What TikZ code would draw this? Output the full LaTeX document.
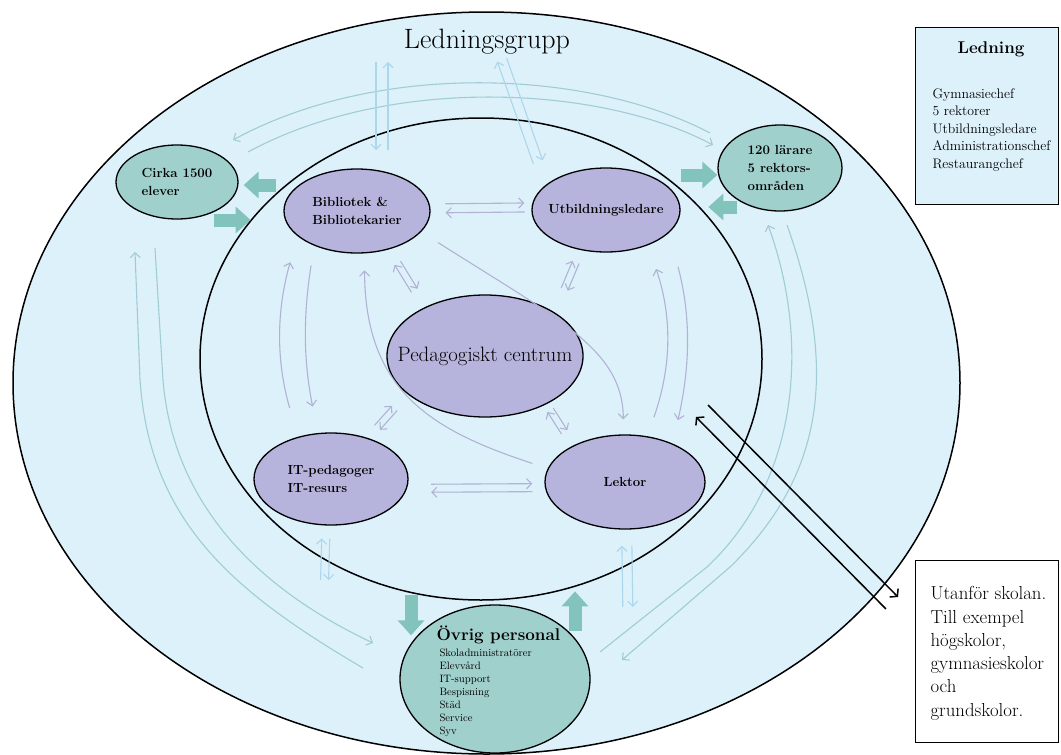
\documentclass[tikz,border=0pt]{standalone}
\usepackage{fontspec}
\usetikzlibrary{shapes.geometric,arrows.meta,calc}

\definecolor{skole}{RGB}{221,241,251}
\definecolor{lilac}{RGB}{182,180,220}
\definecolor{sjo}{RGB}{160,208,204}
\definecolor{fatgreen}{RGB}{130,196,188}
\definecolor{pilgra}{RGB}{178,178,212}
\definecolor{pilbla}{RGB}{160,204,214}
\definecolor{himmel}{RGB}{172,214,236}

\tikzset{
  rum/.style={ellipse, draw=black, line width=1.5pt, fill=skole, inner sep=0pt},
  bubble/.style={ellipse, draw=black, line width=1.3pt, inner sep=0pt,
    align=left, font=\fontsize{13.2}{18}\selectfont\bfseries},
  lilabub/.style={bubble, fill=lilac},
  tealbub/.style={bubble, fill=sjo},
  ruta/.style={draw=black, line width=1.3pt, inner sep=0pt, anchor=north west,
    minimum width=143},
  tunnpil/.style={line width=1.1pt, -{Straight Barb[length=5pt,width=10pt]}},
  inpil/.style={tunnpil, draw=pilgra},
  utpil/.style={tunnpil, draw=pilbla},
  skypil/.style={tunnpil, draw=himmel},
  fatpil/.style={draw=fatgreen, line width=13pt, -{Triangle[length=15pt,width=26pt]}},
  svartpil/.style={draw=black, line width=1.5pt, -{Straight Barb[length=5pt,width=12pt]}},
}

% two parallel arrows in opposite directions
\newcommand{\pairarrow}[6][]{%
  \coordinate (pa-s) at ($(#3)!#4!(#5)$);
  \coordinate (pa-e) at ($(#5)!#6!(#3)$);
  \draw[#1] ($(pa-s)!#2!90:(pa-e)$) -- ($(pa-e)!#2!-90:(pa-s)$);
  \draw[#1] ($(pa-e)!#2!90:(pa-s)$) -- ($(pa-s)!#2!-90:(pa-e)$);
}

\begin{document}
\begin{tikzpicture}[x=1pt,y=-1pt]

\useasboundingbox (0,0) rectangle (1061,755);
\fill[white] (0,0) rectangle (1061,755);

\node[rum, minimum width=947, minimum height=742] (kommun) at (486.5,383) {};
\node[rum, minimum width=562, minimum height=482] (skola) at (481,359) {};

\node[font=\fontsize{28}{32}\selectfont, anchor=base] (lgrupp) at (487,48) {Ledningsgrupp};

\node[tealbub, minimum width=122, minimum height=74] (cirka) at (177,182) {Cirka 1500\\elever};
\node[lilabub, minimum width=146, minimum height=84] (bib) at (357,211) {Bibliotek \&\\Bibliotekarier};
\node[lilabub, minimum width=148, minimum height=84, inner xsep=-12pt] (utb) at (606,210) {Utbildningsledare};
\node[tealbub, minimum width=124, minimum height=86] (lar) at (780,168) {120 lärare\\5 rektors-\\områden};
\node[lilabub, minimum width=196, minimum height=122] (ped) at (485,356) {};
\node[lilabub, minimum width=154, minimum height=92] (itp) at (331,479) {IT-pedagoger\\IT-resurs};
\node[lilabub, minimum width=160, minimum height=94] (lek) at (625,482) {Lektor};
\node[tealbub, minimum width=190, minimum height=148] (ovr) at (495,679) {};

\node[font=\fontsize{20.8}{24}\selectfont] (pedtext) at (ped) {Pedagogiskt centrum};

\node[anchor=base west, font=\fontsize{17}{20}\selectfont\bfseries] (ovrtitle) at (433,640) {Övrig personal};
\foreach \yrke [count=\i from 0] in {Skoladministratörer,Elevvård,IT-support,Bespisning,Städ,Service,Syv}
  \node[anchor=base west, font=\fontsize{10.7}{13}\selectfont] (ovr-\i) at (436,656+13*\i) {\yrke};

\node[ruta, fill=skole, minimum height=177] (ledbox) at (915,27) {};
\node[anchor=base, font=\fontsize{17}{20}\selectfont\bfseries] (ledtitle) at (991,53) {Ledning};
\node[anchor=north west, align=left, font=\fontsize{13.8}{17.5}\selectfont] (ledlist) at (929,85)
  {Gymnasiechef\\5 rektorer\\Utbildningsledare\\Administrationschef\\Restaurangchef};

\node[ruta, fill=white, minimum height=182] (utebox) at (915,560) {};
\node[anchor=north west, align=left, font=\fontsize{18.8}{23.3}\selectfont] (utetext) at (927,583)
  {Utanför skolan.\\Till exempel\\högskolor,\\gymnasieskolor\\och\\grundskolor.};

\coordinate (arcA1) at (710,133);
\coordinate (arcA2) at (233,140);
\coordinate (arcB1) at (248,152);
\coordinate (arcB2) at (713,145);
\draw[utpil] (arcA1) .. controls (590,70) and (380,60) .. (arcA2);
\draw[utpil] (arcB1) .. controls (390,75) and (600,85) .. (arcB2);

\coordinate (lgv-a) at (382,62);
\coordinate (lgv-b) at (382,150);
\pairarrow[skypil]{-6pt}{lgv-a}{0pt}{lgv-b}{0pt}
\coordinate (lgd-a) at (502,60);
\coordinate (lgd-b) at (538,162);
\pairarrow[skypil]{5pt}{lgd-a}{0pt}{lgd-b}{0pt}

\coordinate (ci-s1) at (363,668);
\coordinate (ci-e1) at (135,252);
\coordinate (ci-s2) at (155,248);
\coordinate (ci-e2) at (373,643);
\draw[utpil] (ci-s1) .. controls (230,590) and (150,520) .. (140,380) -- (ci-e1);
\draw[utpil] (ci-s2) -- (163,380) .. controls (172,490) and (240,580) .. (ci-e2);

\coordinate (la-s1) at (787,225);
\coordinate (la-e1) at (622,660);
\coordinate (la-s2) at (600,652);
\coordinate (la-e2) at (768,225);
\draw[utpil] (la-s1) .. controls (835,360) and (830,470) .. (730,567) -- (la-e1);
\draw[utpil] (la-s2) -- (707,567) .. controls (800,480) and (810,340) .. (la-e2);

\coordinate (itp-ut) at (324,600);
\pairarrow[skypil]{4pt}{itp.-96}{13pt}{itp-ut}{20pt}
\coordinate (lek-ut) at (628,620);
\pairarrow[skypil]{5pt}{lek.-88}{16pt}{lek-ut}{13pt}

\pairarrow[inpil]{4.5pt}{bib.2}{15pt}{utb.178}{7pt}
\pairarrow[inpil]{4pt}{itp.-7}{24pt}{lek.184}{12.6pt}
\pairarrow[inpil]{3.5pt}{bib.-50}{16pt}{ped.141}{19.5pt}
\pairarrow[inpil]{3.5pt}{utb.238}{13pt}{ped.32}{25pt}
\pairarrow[inpil]{3.5pt}{itp.48}{14pt}{ped.206}{19pt}
\pairarrow[inpil]{3.5pt}{ped.-38}{7pt}{lek.145}{16pt}

\draw[inpil, shorten <=30pt, shorten >=27pt] (itp.128) to[bend left=16] (bib.203);
\draw[inpil, shorten <=20pt, shorten >=27pt] (bib.219) to[bend right=10] (itp.106);
\draw[inpil, shorten <=20pt, shorten >=25pt] (lek.64) to[bend right=19] (utb.-40);
\draw[inpil, shorten <=35pt, shorten >=24pt] (utb.-20) to[bend left=14] (lek.39);

\draw[inpil, shorten <=20pt, shorten >=15pt] (bib.-18) .. controls (560,320) and (623,350) .. (lek.92);
\draw[inpil, shorten <=16pt, shorten >=17pt] (lek.170) .. controls (430,430) and (365,390) .. (bib.-80);

\draw[fatpil] ($(cirka.east)+(37,3)$) -- ($(cirka.east)+(5,3)$);
\draw[fatpil] ($(cirka.east)+(-25,38)$) -- ($(cirka.east)+(12,38)$);
\draw[fatpil] ($(lar.west)+(-36,7)$) -- ($(lar.west)+(0,7)$);
\draw[fatpil] ($(lar.west)+(20,39)$) -- ($(lar.west)+(-9,39)$);
\draw[fatpil] ($(ovr.north)+(-84,-9)$) -- ($(ovr.north)+(-84,31)$);
\draw[fatpil] ($(ovr.north)+(80,27)$) -- ($(ovr.north)+(80,-13)$);

\coordinate (ute-in) at (702,411);
\coordinate (ute-ut) at ($(utebox.north west)+(-23,43)$);
\pairarrow[svartpil]{8.5pt}{ute-in}{0pt}{ute-ut}{0pt}

\end{tikzpicture}
\end{document}
